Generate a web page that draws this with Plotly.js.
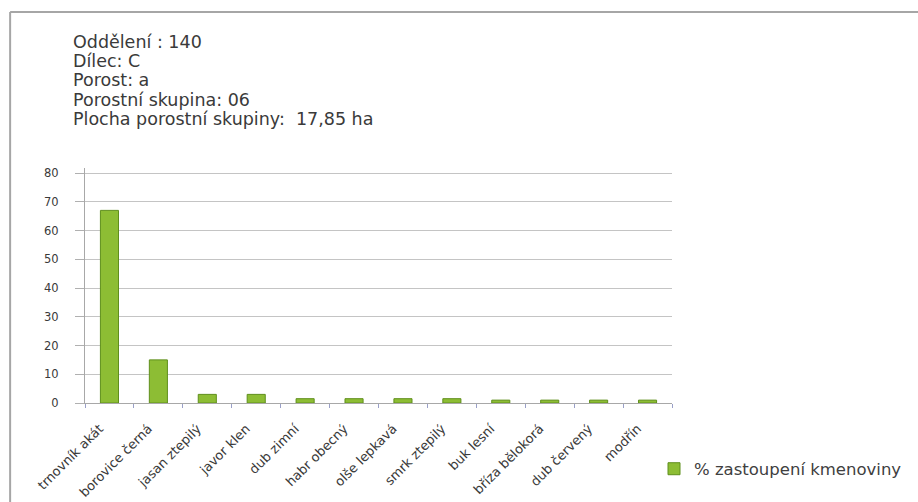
<!DOCTYPE html>
<html>
<head>
<meta charset="utf-8">
<script src="https://cdn.plot.ly/plotly-3.0.1.min.js"></script>
<style>
html,body{margin:0;padding:0;background:#fff;}
#chart{width:918px;height:502px;}
</style>
</head>
<body>
<div id="chart"></div>
<script>
const categories = ["trnovník akát","borovice černá","jasan ztepilý","javor klen","dub zimní","habr obecný","olše lepkavá","smrk ztepilý","buk lesní","bříza bělokorá","dub červený","modřín"];
const values = [67, 15, 3, 3, 1.5, 1.5, 1.5, 1.5, 1, 1, 1, 1];
const seriesName = "% zastoupení kmenoviny";
const headerLines = ["Oddělení : 140","Dílec: C","Porost: a","Porostní skupina: 06","Plocha porostní skupiny:  17,85 ha"];
const yTicks = [0,10,20,30,40,50,60,70,80];

const W=918,H=502,ml=85,mr=245,mt=168,mb=99;
const pw=W-ml-mr, ph=H-mt-mb;
const yMax = 80*ph/230;
const px=x=>(x-ml)/pw, py=y=>1+(mt-y)/ph;
const font="DejaVu Sans, sans-serif";
const lineY=[42,61,80,100,119];

const annotations = headerLines.map((t,i)=>({
  text:t, xref:'paper', yref:'paper', x:px(71), y:py(lineY[i]),
  xanchor:'left', yanchor:'middle', showarrow:false,
  font:{family:font,size:17.5,color:'#3a3a3a'}
}));

const trace = {
  type:'bar', x:categories, y:values, name:seriesName,
  marker:{color:'#8dbd34', line:{color:'#5f8f1c',width:1}},
  width:0.37, showlegend:true
};

const layout = {
  width:W, height:H,
  margin:{l:ml,r:mr,t:mt,b:mb,pad:0},
  paper_bgcolor:'#ffffff', plot_bgcolor:'#ffffff',
  showlegend:true,
  legend:{x:px(654), y:py(469), xanchor:'left', yanchor:'middle',
    font:{family:font,size:16.5,color:'#404040'}, bgcolor:'rgba(0,0,0,0)',
    itemwidth:30, tracegroupgap:0},
  xaxis:{type:'category', tickangle:-45, tickson:'boundaries', ticks:'outside', ticklen:4,
    tickcolor:'#9aa0c8', showline:true, linecolor:'#a8a8a8', linewidth:1, showgrid:false,
    ticklabelstandoff:12, ticklabelshift:-10,
    tickfont:{family:font,size:13,color:'#3a3a3a'}, automargin:false},
  yaxis:{range:[0,yMax], tickvals:yTicks, ticks:'outside', ticklen:9, tickcolor:'#b0b0b0',
    showline:true, linecolor:'#a8a8a8', linewidth:1, showgrid:true, gridcolor:'#c4c4c4', gridwidth:1,
    ticklabelstandoff:14,
    zeroline:false, tickfont:{family:font,size:11.5,color:'#3a3a3a'}, automargin:false},
  annotations:annotations,
  shapes:[
    {type:'line', xref:'paper', yref:'paper', x0:px(10), x1:px(920), y0:py(12), y1:py(12), line:{color:'#a6a6a6',width:2}},
    {type:'line', xref:'paper', yref:'paper', x0:px(10), x1:px(10), y0:py(12), y1:py(504), line:{color:'#a6a6a6',width:2}}
  ],
  bargap:0.63
};

Plotly.newPlot('chart',[trace],layout,{displayModeBar:false,staticPlot:true});
</script>
</body>
</html>
